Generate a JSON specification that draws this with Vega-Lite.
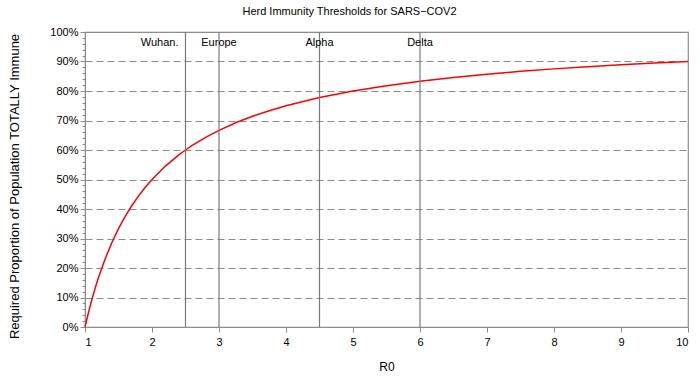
{
  "$schema": "https://vega.github.io/schema/vega-lite/v6.json",
  "width": 603,
  "height": 295,
  "autosize": {"type": "none"},
  "padding": {"left": 85, "top": 32, "right": 12, "bottom": 54},
  "background": "white",
  "config": {
    "font": "Liberation Sans",
    "view": {"stroke": "#8c8c8c", "strokeWidth": 1.2},
    "axis": {"labelFont": "Liberation Sans", "titleFont": "Liberation Sans", "labelColor": "black", "titleColor": "black", "titleFontWeight": "normal", "domainColor": "#8c8c8c", "tickColor": "#8c8c8c"}
  },
  "title": {"text": "Herd Immunity Thresholds for SARS−COV2", "fontSize": 11, "fontWeight": "normal", "font": "Liberation Sans", "dx": -37, "offset": 9, "color": "black"},
  "datasets": {
    "curve": [
      {"R0": 1.0, "p": 0},
      {"R0": 1.05, "p": 0.047619},
      {"R0": 1.1, "p": 0.090909},
      {"R0": 1.15, "p": 0.130435},
      {"R0": 1.2, "p": 0.166667},
      {"R0": 1.3, "p": 0.230769},
      {"R0": 1.4, "p": 0.285714},
      {"R0": 1.5, "p": 0.333333},
      {"R0": 1.6, "p": 0.375},
      {"R0": 1.7, "p": 0.411765},
      {"R0": 1.8, "p": 0.444444},
      {"R0": 1.9, "p": 0.473684},
      {"R0": 2.0, "p": 0.5},
      {"R0": 2.2, "p": 0.545455},
      {"R0": 2.4, "p": 0.583333},
      {"R0": 2.5, "p": 0.6},
      {"R0": 2.6, "p": 0.615385},
      {"R0": 2.8, "p": 0.642857},
      {"R0": 3.0, "p": 0.666667},
      {"R0": 3.25, "p": 0.692308},
      {"R0": 3.5, "p": 0.714286},
      {"R0": 3.75, "p": 0.733333},
      {"R0": 4.0, "p": 0.75},
      {"R0": 4.5, "p": 0.777778},
      {"R0": 5.0, "p": 0.8},
      {"R0": 5.5, "p": 0.818182},
      {"R0": 6.0, "p": 0.833333},
      {"R0": 6.5, "p": 0.846154},
      {"R0": 7.0, "p": 0.857143},
      {"R0": 7.5, "p": 0.866667},
      {"R0": 8.0, "p": 0.875},
      {"R0": 8.5, "p": 0.882353},
      {"R0": 9.0, "p": 0.888889},
      {"R0": 9.5, "p": 0.894737},
      {"R0": 10.0, "p": 0.9}
    ],
    "variants": [
      {"R0": 2.5, "name": "Wuhan."},
      {"R0": 3.0, "name": "Europe"},
      {"R0": 4.5, "name": "Alpha"},
      {"R0": 6.0, "name": "Delta"}
    ]
  },
  "resolve": {"axis": {"y": "independent"}},
  "layer": [
    {
      "data": {"name": "curve"},
      "mark": {"type": "line", "opacity": 0},
      "encoding": {
        "x": {"field": "R0", "type": "quantitative", "scale": {"domain": [1, 10], "nice": false}, "axis": {"values": [1,2,3,4,5,6,7,8,9,10], "format": "d", "title": "R0", "titleFontSize": 12, "labelFontSize": 11, "tickSize": 5, "labelPadding": 4, "titlePadding": 14, "grid": false, "domain": false}},
        "y": {"field": "p", "type": "quantitative", "scale": {"domain": [0, 1], "nice": false}, "axis": {"orient": "left", "values": [0.02,0.04,0.06,0.08,0.12,0.14,0.16,0.18,0.22,0.24,0.26,0.28,0.32,0.34,0.36,0.38,0.42,0.44,0.46,0.48,0.52,0.54,0.56,0.58,0.62,0.64,0.66,0.68,0.72,0.74,0.76,0.78,0.82,0.84,0.86,0.88,0.92,0.94,0.96,0.98], "labels": false, "title": null, "tickSize": 3, "domain": false, "grid": false}}
      }
    },
    {
      "data": {"name": "curve"},
      "mark": {"type": "line", "color": "red", "strokeWidth": 1.5},
      "encoding": {
        "x": {"field": "R0", "type": "quantitative"},
        "y": {"field": "p", "type": "quantitative", "axis": {"orient": "left", "values": [0,0.1,0.2,0.3,0.4,0.5,0.6,0.7,0.8,0.9,1.0], "format": ".0%", "labelFontSize": 11, "tickSize": 5, "labelPadding": 2, "grid": true, "gridDash": [7, 4], "gridColor": "#8c8c8c", "gridWidth": 1.2, "title": "Required Proportion of Population TOTALLY Immune", "titleFontSize": 13, "titlePadding": 28, "titleY": 154, "domain": true}}
      }
    },
    {
      "data": {"name": "variants"},
      "mark": {"type": "rule", "color": "#7a7a7a", "strokeWidth": 1.2},
      "encoding": {
        "x": {"field": "R0", "type": "quantitative"}
      }
    },
    {
      "data": {"name": "variants"},
      "transform": [{"filter": "datum.name != 'Wuhan.'"}],
      "mark": {"type": "text", "align": "center", "baseline": "middle", "fontSize": 11, "color": "black"},
      "encoding": {
        "x": {"field": "R0", "type": "quantitative"},
        "y": {"datum": 0.963, "axis": null},
        "text": {"field": "name"}
      }
    },
    {
      "data": {"name": "variants"},
      "transform": [{"filter": "datum.name == 'Wuhan.'"}],
      "mark": {"type": "text", "align": "right", "baseline": "middle", "fontSize": 11, "dx": -7, "color": "black"},
      "encoding": {
        "x": {"field": "R0", "type": "quantitative"},
        "y": {"datum": 0.963, "axis": null},
        "text": {"field": "name"}
      }
    }
  ]
}
